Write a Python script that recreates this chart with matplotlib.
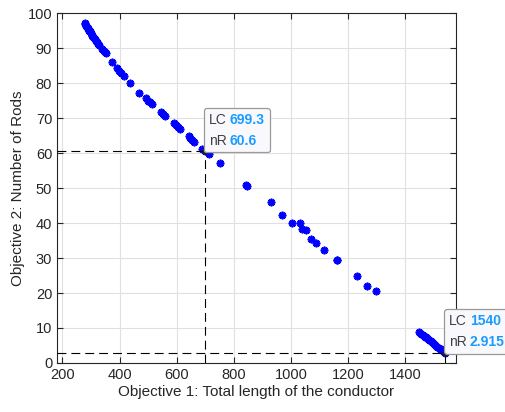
import matplotlib.pyplot as plt
from matplotlib.offsetbox import TextArea, HPacker, VPacker, AnnotationBbox

plt.rcParams['font.family'] = ['Liberation Sans', 'DejaVu Sans']

# Pareto front: total conductor length vs number of rods
length = [278, 280, 283, 285, 288, 291, 294, 296, 299, 302, 305, 308, 311, 314,
          317, 320, 323, 327, 340, 344, 348, 354,
          374, 391, 398, 405, 414, 438, 469, 493, 500, 507, 514, 544, 552, 560,
          589, 596, 603, 611, 642, 648, 654, 660, 689, 699.3, 714, 752, 843, 846,
          930, 970, 1005, 1032, 1038, 1053, 1070, 1088, 1117, 1160, 1162, 1230,
          1268, 1298,
          1449, 1453, 1457, 1461, 1465, 1469, 1473, 1477, 1481, 1485, 1489, 1493,
          1497, 1501, 1505, 1509, 1513, 1517, 1521, 1525, 1529, 1533, 1537, 1540]
rods = [97.1, 96.8, 96.4, 96.1, 95.7, 95.4, 95.0, 94.8, 94.3, 93.9, 93.5, 93.2, 92.8, 92.5,
        92.1, 91.7, 91.3, 90.8, 89.9, 89.3, 88.9, 88.5,
        86.1, 84.4, 83.6, 82.8, 82.1, 80.1, 77.3, 75.8, 75.0, 74.5, 73.9, 71.8, 71.2, 70.7,
        68.7, 68.1, 67.5, 66.8, 65.0, 64.4, 63.8, 63.2, 61.3, 60.6, 59.6, 57.2, 50.9, 50.7,
        46.0, 42.3, 39.9, 39.9, 38.2, 37.9, 35.4, 34.2, 32.3, 29.5, 29.3, 24.9,
        22.0, 20.6,
        8.9, 8.6, 8.4, 8.1, 7.8, 7.5, 7.3, 7.0, 6.8, 6.5, 6.2, 6.0,
        5.7, 5.4, 5.2, 4.9, 4.7, 4.4, 4.1, 3.9, 3.6, 3.4, 3.1, 2.915]

# data tips
tip_lc = [699.3, 1540]
tip_nr = [60.6, 2.915]
tip_lc_text = ['699.3', '1540']
tip_nr_text = ['60.6', '2.915']

fig = plt.figure(figsize=(5.05, 4.12), dpi=100)
ax = fig.add_axes([0.113, 0.119, 0.79, 0.849])

ax.plot(length, rods, linestyle='none', marker=(8, 2, 0), markersize=5.5,
        markeredgewidth=1.3, color='blue', zorder=3)

ax.set_xlim(181, 1578)
ax.set_ylim(0, 100)
ax.set_xticks(range(200, 1401, 200))
ax.set_yticks(range(0, 101, 10))

# dashed guide lines to each data tip
for lc, nr in zip(tip_lc, tip_nr):
    ax.plot([181, lc], [nr, nr], color='black', lw=0.8, linestyle=(0, (8, 4.5)), zorder=4)
    ax.plot([lc, lc], [0, nr], color='black', lw=0.8, linestyle=(0, (8, 4.5)), zorder=4)
    ax.plot(lc, nr, 'o', color='#202020', markersize=3.5, zorder=5)

for lc, nr, lct, nrt in zip(tip_lc, tip_nr, tip_lc_text, tip_nr_text):
    lab = dict(color='#404040', fontsize=10)
    val = dict(color='#1a9cff', fontsize=10, fontweight='bold')
    row1 = HPacker(children=[TextArea('LC', textprops=lab), TextArea(lct, textprops=val)],
                   pad=0, sep=2.5)
    row2 = HPacker(children=[TextArea('nR', textprops=lab), TextArea(nrt, textprops=val)],
                   pad=0, sep=2.5)
    box = VPacker(children=[row1, row2], pad=0, sep=5)
    ab = AnnotationBbox(box, (lc, nr), xybox=(2.5, 2.5), xycoords='data',
                        boxcoords='offset points', box_alignment=(0, 0),
                        frameon=True, pad=0.35, annotation_clip=False,
                        bboxprops=dict(boxstyle='round,pad=0.35,rounding_size=0.2',
                                       fc='#f9f9fd', ec='#9a9a9a', lw=0.9))
    ab.set_zorder(6)
    ax.add_artist(ab)

ax.grid(True, color='#e0e0e0', linewidth=0.8)
ax.set_axisbelow(True)
for s in ax.spines.values():
    s.set_color('#262626')
    s.set_linewidth(0.8)
ax.tick_params(direction='in', top=True, right=True, length=4, width=0.8,
               color='#262626', labelcolor='#262626', labelsize=10.5)

ax.set_xlabel('Objective 1: Total length of the conductor', fontsize=11, color='#262626',
              labelpad=2)
ax.set_ylabel('Objective 2: Number of Rods', fontsize=11, color='#262626', labelpad=2)

fig.savefig('out.png', dpi=100)
